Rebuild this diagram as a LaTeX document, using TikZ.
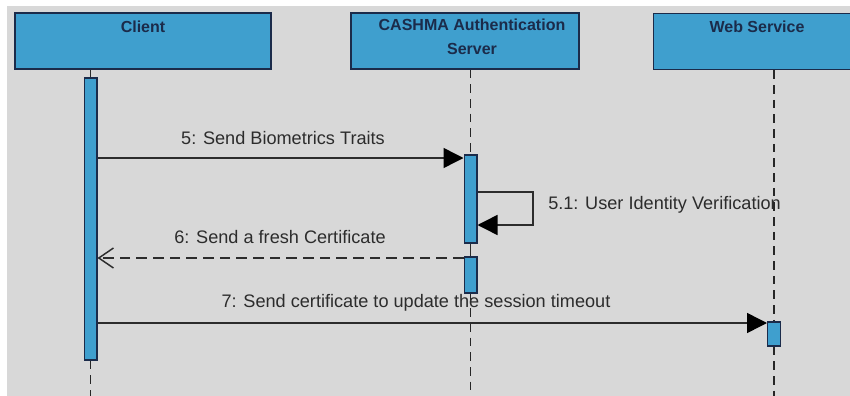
\documentclass[tikz,border=0pt]{standalone}
\usepackage{fontspec}
\setmainfont{Liberation Sans}
\usetikzlibrary{arrows.meta}
\definecolor{bg}{HTML}{D8D8D8}
\definecolor{boxblue}{HTML}{3F9FCE}
\definecolor{navy}{HTML}{1B2B4A}
\definecolor{ink}{HTML}{2C2C2C}
\begin{document}
\begin{tikzpicture}[x=0.75pt,y=-0.75pt,
  actorbox/.style={draw=navy, line width=1.1pt, fill=boxblue, inner sep=0pt},
  title/.style={text=navy, font=\fontsize{12}{15}\selectfont\bfseries, align=center, inner sep=0pt},
  bar/.style={draw=navy, line width=1pt, fill=boxblue, inner sep=0pt, minimum width=9.5pt},
  life/.style={draw=black!85, line width=1.2pt, dash pattern=on 6.5pt off 4.5pt},
  msg/.style={draw=ink, line width=1.1pt, -{Triangle[length=15pt,width=15pt,fill=black,color=black]}},
  ret/.style={draw=ink, line width=1.1pt, dash pattern=on 8pt off 4.5pt, -{Straight Barb[length=11pt,width=15pt,line width=1.1pt]}},
  lbl/.style={text=ink, font=\fontsize{13.6}{16}\selectfont, inner sep=0pt}]
\clip (0,0) rectangle (850,396);
\fill[white] (0,0) rectangle (850,396);
\fill[bg] (7,6) rectangle (850,396);
% actor boxes
\node[actorbox, minimum width=192pt, minimum height=42pt] (client) at (143,41) {};
\node[actorbox, minimum width=171pt, minimum height=42pt] (cashma) at (465,41) {};
\node[actorbox, minimum width=165pt, minimum height=42pt, anchor=north west] (web) at (653,13) {};
\node[title] (clientT) at (143,27) {Client};
\node[title] (cashmaT) at (472,37) {CASHMA Authentication\\[3pt]Server};
\node[title] (webT) at (757,27) {Web Service};
% activation bars
\node[bar, minimum height=211.5pt] (cbar) at (90.5,219) {};
\node[bar, minimum height=66pt] (sbar1) at (470.5,199) {};
\node[bar, minimum height=27pt] (sbar2) at (470.5,275) {};
\node[bar, minimum height=18pt] (wbar) at (774,334) {};
% lifelines
\coordinate (cend) at (90.5,396);
\coordinate (send) at (470.5,396);
\coordinate (wend) at (774,396);
\draw[draw=ink, line width=1.2pt] (client.south -| cbar.north) -- (cbar.north);
\draw[life] (cbar.south) -- (cend);
\draw[life] (cashma.south -| sbar1.north) -- (sbar1.north);
\draw[draw=ink, line width=1.2pt] (sbar1.south) -- (sbar2.north);
\draw[life] (sbar2.south) -- (send);
\draw[life] (web.south -| wbar.north) -- (wbar.north);
\draw[life] (wbar.south) -- (wend);
% messages
\draw[msg] (cbar.east |- 0,158) -- (sbar1.west |- 0,158);
\node[lbl] (m5) at (283,138) {5: Send Biometrics Traits};
\coordinate (loopA) at (533,192);
\coordinate (loopB) at (533,225);
\draw[msg] (sbar1.east |- loopA) -- (loopA) -- (loopB) -- (sbar1.east |- loopB);
\node[lbl, anchor=west] (m51) at (548,205) {5.1: User Identity Verification};
\draw[ret] (sbar2.west |- 0,258) -- (cbar.east |- 0,258);
\node[lbl] (m6) at (280,237) {6: Send a fresh Certificate};
\draw[msg] (cbar.east |- 0,323) -- (wbar.west |- 0,323);
\node[lbl] (m7) at (416,303) {7: Send certificate to update the session timeout};
\end{tikzpicture}
\end{document}
